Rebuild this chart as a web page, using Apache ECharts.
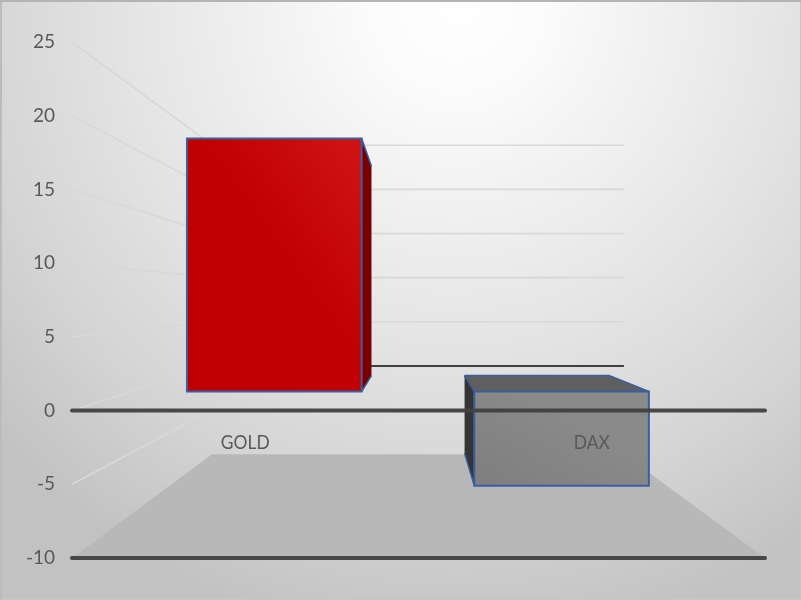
<!DOCTYPE html>
<html>
<head>
<meta charset="utf-8">
<style>
html,body{margin:0;padding:0;width:801px;height:600px;overflow:hidden}
#chart{width:801px;height:600px;background:radial-gradient(ellipse 78% 108% at 57% 0%,#ffffff 0%,#fbfbfb 14%,#e6e6e6 50%,#d4d4d4 78%,#c2c2c2 100%);box-shadow:inset 0 2px 0 #b4b4b4,inset 2px 0 0 #bcbcbc,inset 0 -2px 0 #c6c6c6,inset -1px 0 0 #c6c6c6}
</style>
<script src="https://cdn.jsdelivr.net/npm/echarts@6/dist/echarts.min.js"></script>
</head>
<body>
<div id="chart"></div>
<script>
const categories = ['GOLD', 'DAX'];
const barValues = [20.7, -7.7];
const yTicks = [25, 20, 15, 10, 5, 0, -5, -10];
const frontLines = [0, -10];
const yMin = -10, yMax = 25, yStep = 5;

// perspective of the 3D box, in axis units
const vanish = [1, 7.55];          // vanishing point (x units, y value)
const backDepth = 0.5988;          // scale of the back wall
const backLeft = 0.005, backRight = 1.99; // back wall extent in x units
const barFrontDepth = 0.829;       // scale of the bar's front face
const barBackDepth = 0.6855;       // scale of the bar's back face
const barHalfWidth = 0.304;        // half bar width in category units
const barCenter = 0.498;           // bar centre within its category
const labelValue = -2.17;          // category labels sit here on the value scale

const fontFamily = 'Lato,"Open Sans",sans-serif';

function projector(api) {
  const v = api.coord(vanish);
  return function (x, y, s) {
    const p = api.coord([x, y]);
    return [v[0] + s * (p[0] - v[0]), v[1] + s * (p[1] - v[1])];
  };
}
function line(a, b, style) {
  return { type: 'line', shape: { x1: a[0], y1: a[1], x2: b[0], y2: b[1] }, style: style };
}
function poly(points, style) {
  return { type: 'polygon', shape: { points: points }, style: style };
}

function renderFloor(params, api) {
  const P = projector(api);
  return poly([P(0, yMin, 1), P(2, yMin, 1), P(backRight, yMin, backDepth), P(backLeft, yMin, backDepth)], { fill: '#b8b8b8' });
}

function renderWall(params, api) {
  const P = projector(api);
  const t = api.value(0);
  if (t === yMin) return { type: 'group', children: [] };
  const light = { stroke: '#d8d8d8', lineWidth: 1.6, fill: 'none' };
  const back = t === 0 ? { stroke: '#404040', lineWidth: 2, fill: 'none' } : light;
  return {
    type: 'group',
    children: [
      line(P(0, t, 1), P(backLeft, t, backDepth), light),
      line(P(backLeft, t, backDepth), P(backRight, t, backDepth), back)
    ]
  };
}

const barStyles = [
  {
    front: new echarts.graphic.LinearGradient(0, 0.6, 1, 0.1, [{ offset: 0, color: '#c00000' }, { offset: 0.5, color: '#c20202' }, { offset: 1, color: '#d01212' }]),
    side: '#7a0000', top: '#7a0000'
  },
  {
    front: new echarts.graphic.LinearGradient(0, 1, 0.3, 0, [{ offset: 0, color: '#7e7e7e' }, { offset: 1, color: '#8a8a8a' }]),
    side: '#343434', top: '#5f5f5f'
  }
];
const edge = '#3a5f9f';

function renderBar(params, api) {
  const P = projector(api);
  const i = api.value(0), val = api.value(1);
  const st = barStyles[i];
  const c = i + barCenter, L = c - barHalfWidth, R = c + barHalfWidth;
  const f = barFrontDepth, b = barBackDepth;
  const hi = Math.max(val, 0), lo = Math.min(val, 0);
  const kids = [];
  const fl = P(L, hi, f), fr = P(R, hi, f), bl = P(L, hi, b), br = P(R, hi, b);
  const fl2 = P(L, lo, f), fr2 = P(R, lo, f), bl2 = P(L, lo, b), br2 = P(R, lo, b);
  const thin = { stroke: edge, lineWidth: 1.5, fill: 'none' };
  if (bl[1] < fl[1]) {
    kids.push(poly([fl, fr, br, bl], { fill: st.top }));
    kids.push(line(bl, br, thin), line(br, fr, thin), line(bl, fl, thin));
  }
  if (fr[0] < api.coord(vanish)[0]) {
    kids.push(poly([fr, br, br2, fr2], { fill: st.side }));
    kids.push(line(fr, br, thin), line(fr2, br2, thin));
  } else {
    kids.push(poly([fl, bl, bl2, fl2], { fill: st.side }));
    kids.push(line(fl, bl, thin), line(fl2, bl2, thin));
  }
  kids.push(poly([fl, fr, fr2, fl2], { fill: st.front, stroke: edge, lineWidth: 2, lineJoin: 'miter' }));
  return { type: 'group', children: kids };
}

function renderFrontLine(params, api) {
  const t = api.value(0);
  return line(api.coord([0, t]), api.coord([2, t]), { stroke: '#404040', lineWidth: 4, lineCap: 'round', fill: 'none', opacity: 0.95 });
}

function renderCategoryLabel(params, api) {
  const i = api.value(0);
  const p = api.coord([i + 0.5, labelValue]);
  return {
    type: 'text',
    x: p[0], y: p[1], scaleX: 0.87,
    style: { text: categories[i], x: 0, y: 0, textAlign: 'center', textVerticalAlign: 'middle', fontSize: 20, fontFamily: fontFamily, fill: '#595959' }
  };
}

const chart = echarts.init(document.getElementById('chart'), null, { width: 801, height: 600 });
chart.setOption({
  animation: false,
  backgroundColor: 'transparent',
  grid: { left: 72, right: 36, top: 42, bottom: 42 },
  xAxis: [
    {
      type: 'category', data: categories,
      axisLine: { show: false }, axisTick: { show: false }, axisLabel: { show: false }, splitLine: { show: false }
    },
    {
      type: 'value', min: 0, max: 2, show: false
    }
  ],
  yAxis: {
    type: 'value', min: yMin, max: yMax, interval: yStep,
    axisLine: { show: false }, axisTick: { show: false }, splitLine: { show: false },
    axisLabel: { color: '#595959', fontSize: 19, fontFamily: fontFamily, margin: 17, padding: [4, 0, 0, 0] }
  },
  series: [
    { type: 'custom', name: 'walls', xAxisIndex: 1, z: 1, clip: false, silent: true, renderItem: renderWall, data: yTicks.map(t => [t]) },
    { type: 'custom', name: 'floor', xAxisIndex: 1, z: 2, clip: false, silent: true, renderItem: renderFloor, data: [[0]] },
    { type: 'custom', name: 'bars', xAxisIndex: 1, z: 3, clip: false, silent: true, renderItem: renderBar, encode: { x: 0, y: 1 }, data: barValues.map((v, i) => [i, v]) },
    { type: 'custom', name: 'frontLines', xAxisIndex: 1, z: 4, clip: false, silent: true, renderItem: renderFrontLine, data: frontLines.map(t => [t]) },
    { type: 'custom', name: 'labels', xAxisIndex: 1, z: 5, clip: false, silent: true, renderItem: renderCategoryLabel, data: categories.map((c, i) => [i]) }
  ]
});
</script>
</body>
</html>
